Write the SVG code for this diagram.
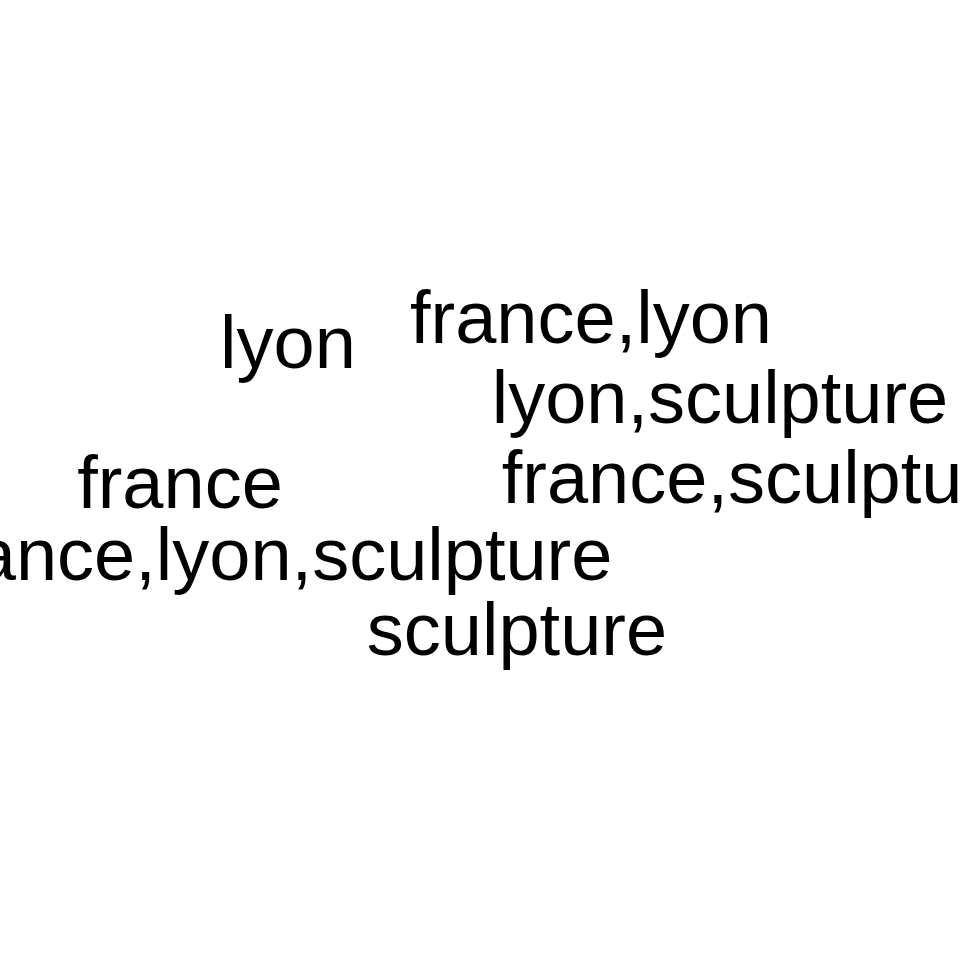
<svg xmlns="http://www.w3.org/2000/svg" width="960" height="960" viewBox="0 0 960 960">
<style>
text{font-family:"Liberation Sans",Arial,sans-serif;font-size:74px;fill:#000;text-anchor:middle}
</style>
<rect width="960" height="960" fill="#fff"/>
<g id="n-lyon"><text x="288" y="368">lyon</text></g>
<g id="n-france-lyon"><text x="591" y="343">france,lyon</text></g>
<g id="n-lyon-sculpture"><text x="720" y="423">lyon,sculpture</text></g>
<g id="n-france"><text x="180" y="508">france</text></g>
<g id="n-france-sculpture"><text x="765" y="503">france,sculpture</text></g>
<g id="n-france-lyon-sculpture"><text x="271" y="580">france,lyon,sculpture</text></g>
<g id="n-sculpture"><text x="517" y="655">sculpture</text></g>
<g id="connectors"></g>
</svg>
